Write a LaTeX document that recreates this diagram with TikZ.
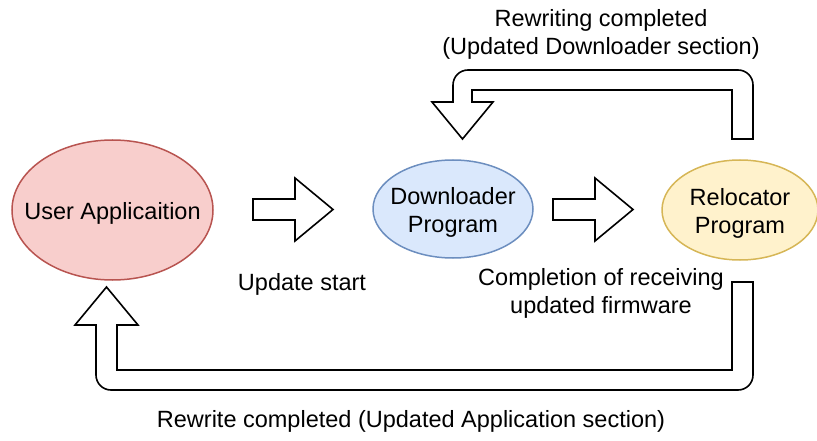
\documentclass[tikz,border=0pt]{standalone}
\usepackage{fontspec}
\setmainfont{Liberation Sans}
\usetikzlibrary{shapes.geometric}
\definecolor{appfill}{HTML}{F8CECC}
\definecolor{appdraw}{HTML}{B85450}
\definecolor{dlfill}{HTML}{DAE8FC}
\definecolor{dldraw}{HTML}{6C8EBF}
\definecolor{rlfill}{HTML}{FFF2CC}
\definecolor{rldraw}{HTML}{D6B656}
\tikzset{
  ell/.style={ellipse, line width=1.5pt, inner sep=0pt},
  lbl/.style={align=center, inner sep=0pt, font=\fontsize{23.5}{28}\selectfont},
  blockarrow/.style={draw=black, fill=white, line width=1.6pt, line join=miter},
}
\begin{document}
\begin{tikzpicture}[x=1pt,y=-1pt]
\useasboundingbox (0,0) rectangle (817,441);

% ellipses
\node[ell, draw=appdraw, fill=appfill, minimum width=201pt, minimum height=140pt] (app) at (112.5,210) {};
\node[ell, draw=dldraw, fill=dlfill, minimum width=160pt, minimum height=98pt] (dl) at (453,209) {};
\node[ell, draw=rldraw, fill=rlfill, minimum width=156pt, minimum height=100pt] (rl) at (740,210) {};
\node[lbl] (apptext) at ([yshift=-3pt]app.center) {User Applicaition};
\node[lbl] (dltext) at ([yshift=-3pt]dl.center) {Downloader\\Program};
\node[lbl] (rltext) at ([yshift=-3pt]rl.center) {Relocator\\Program};

% straight block arrows
\draw[blockarrow] (253,199) -- (295,199) -- (295,178) -- (333,209.5) -- (295,241) -- (295,220) -- (253,220) -- cycle;
\draw[blockarrow] (553,199) -- (595,199) -- (595,178) -- (633,209.5) -- (595,241) -- (595,220) -- (553,220) -- cycle;

% top U-turn arrow
\draw[blockarrow] (732,139) -- (753,139) -- (753,85)
  .. controls (753,76.7) and (746.3,70) .. (738,70) -- (468,70)
  .. controls (459.7,70) and (453,76.7) .. (453,85) -- (453,102) -- (432,102)
  -- (462.5,139) -- (493,102) -- (472,102) -- (472,90) -- (732,90) -- cycle;

% bottom U-turn arrow
\draw[blockarrow] (732,282) -- (753,282) -- (753,375)
  .. controls (753,383.3) and (746.3,390) .. (738,390) -- (111,390)
  .. controls (102.7,390) and (96,383.3) .. (96,375) -- (96,325) -- (75,325)
  -- (106.5,287) -- (138,325) -- (117,325) -- (117,370) -- (732,370) -- cycle;

% labels
\node[lbl] (ltop) at (601,34) {Rewriting completed\\(Updated Downloader section)};
\node[lbl] (lstart) at (302,284) {Update start};
\node[lbl] (lrecv) at (601,293) {Completion of receiving\\updated firmware};
\node[lbl] (lbot) at (411,421) {Rewrite completed (Updated Application section)};
\end{tikzpicture}
\end{document}
